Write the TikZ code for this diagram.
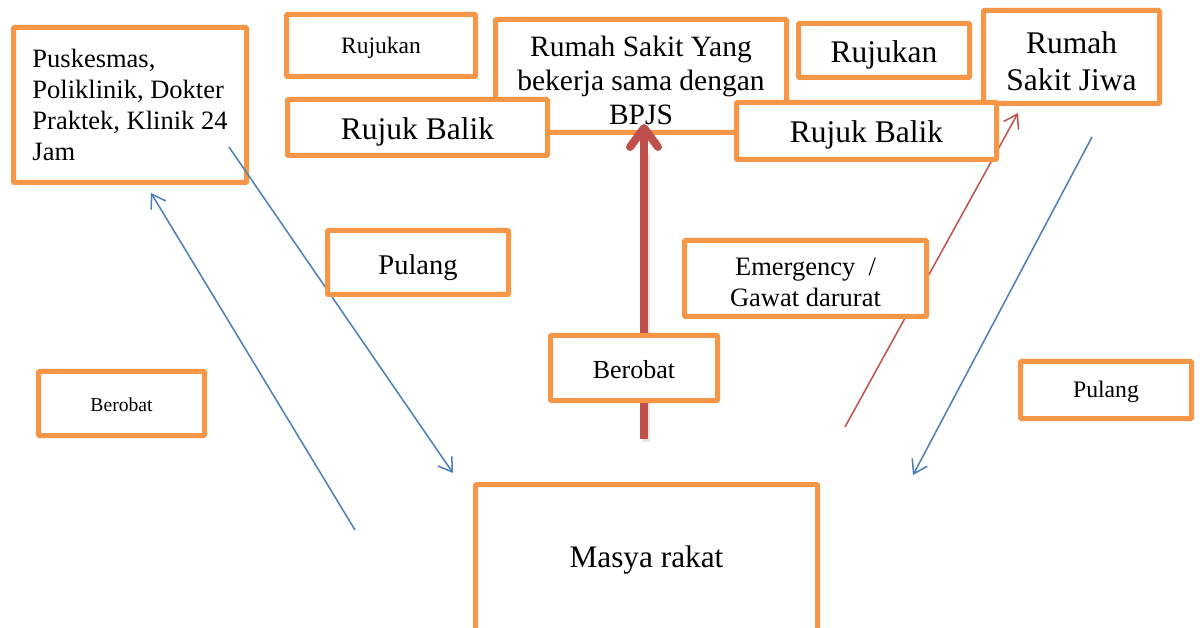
\documentclass[tikz,border=0pt]{standalone}
\usepackage{fontspec}
\setmainfont{Liberation Serif}
\usepackage{xcolor}
\usetikzlibrary{arrows.meta,calc}
\definecolor{Orange}{HTML}{F79646}
\definecolor{Blue}{HTML}{4A7EBB}
\definecolor{Red}{HTML}{C0504D}
\newcommand{\topstrut}[1]{\rule{0pt}{#1}}
\tikzset{
  box/.style={draw=Orange,fill=white,line width=5pt,rounded corners=1pt,inner sep=0pt,align=center,text=black},
  push/.style={execute at begin node={\topstrut{#1}}},
  bluearr/.style={-{Straight Barb[length=13pt,width=17pt]},draw=Blue,line width=1.5pt},
  redarr/.style={-{Straight Barb[length=13pt,width=17pt]},draw=Red,line width=1.5pt},
  bigarr/.style={-{Straight Barb[length=19pt,width=28pt,round]},draw=Red,line width=8pt},
  shade/.style={draw=black!10,line width=8pt}
}

\begin{document}
\begin{tikzpicture}[x=1pt,y=-1pt]
  \clip (0,0) rectangle (1200,628);
  \fill[white] (0,0) rectangle (1200,628);
  % these two lie under the connectors
  \node[box,minimum width=291,minimum height=113,font=\fontsize{29.5}{34}\selectfont] (rs) at (641,76) {\topstrut{30pt}Rumah Sakit Yang\\bekerja sama dengan\\BPJS};
  \node[box,minimum width=233,minimum height=155,align=left,font=\fontsize{26.5}{31}\selectfont] (pusk) at (130,105) {Puskesmas,\\Poliklinik, Dokter\\Praktek, Klinik 24\\Jam};
  % free ends of the connectors
  \coordinate (obatS) at (355,530);
  \coordinate (obatE) at (151,193);
  \coordinate (pulangS) at (229,147);
  \coordinate (pulangE) at (453,473);
  \coordinate (berobatS) at (644,439);
  \coordinate (berobatE) at (644,124);
  \coordinate (gawatS) at (845,427);
  \coordinate (gawatE) at (1018,113);
  \coordinate (jiwaS) at (1092,137);
  \coordinate (jiwaE) at (913,475);
  \draw[shade] ($(berobatS)+(1.5,3)$) -- ($(berobatE)+(1.5,30)$);
  \draw[bigarr] (berobatS) -- (berobatE);
  \draw[bluearr] (obatS) -- (obatE);
  \draw[bluearr] (pulangS) -- (pulangE);
  \draw[redarr] (gawatS) -- (gawatE);
  \draw[bluearr] (jiwaS) -- (jiwaE);
  % boxes
  \node[box,minimum width=189,minimum height=62,push=22pt,font=\fontsize{23.5}{28}\selectfont] (rujukanA) at (381,45.5) {Rujukan};
  \node[box,minimum width=171,minimum height=54,push=31.5pt,font=\fontsize{31.5}{36}\selectfont] (rujukanB) at (884,50.5) {Rujukan};
  \node[box,minimum width=176,minimum height=93,font=\fontsize{31.5}{37}\selectfont] (rsj) at (1071.5,57) {\topstrut{30.5pt}Rumah\\Sakit Jiwa};
  \node[box,minimum width=260,minimum height=56,push=30.5pt,font=\fontsize{31.5}{36}\selectfont] (balikA) at (417.5,127.5) {Rujuk Balik};
  \node[box,minimum width=260,minimum height=57,push=30.5pt,font=\fontsize{31.5}{36}\selectfont] (balikB) at (866.5,131) {Rujuk Balik};
  \node[box,minimum width=181,minimum height=64,push=29.5pt,font=\fontsize{28.5}{33}\selectfont] (pulangA) at (418,262.5) {Pulang};
  \node[box,minimum width=242,minimum height=76,font=\fontsize{26.5}{31}\selectfont] (emerg) at (805.5,278.5) {\topstrut{26pt}Emergency~~/\\Gawat darurat};
  \node[box,minimum width=167,minimum height=65,push=21pt,font=\fontsize{26}{30}\selectfont] (berobatA) at (634,368) {Berobat};
  \node[box,minimum width=166,minimum height=64,push=15.5pt,font=\fontsize{19.6}{24}\selectfont] (berobatB) at (121.5,403.5) {Berobat};
  \node[box,minimum width=171,minimum height=57,push=21pt,font=\fontsize{23.7}{28}\selectfont] (pulangB) at (1106,390) {Pulang};
  \node[box,minimum width=342,minimum height=147,push=25.5pt,font=\fontsize{31.3}{36}\selectfont] (masy) at (646.5,558) {Masya rakat};
\end{tikzpicture}
\end{document}
